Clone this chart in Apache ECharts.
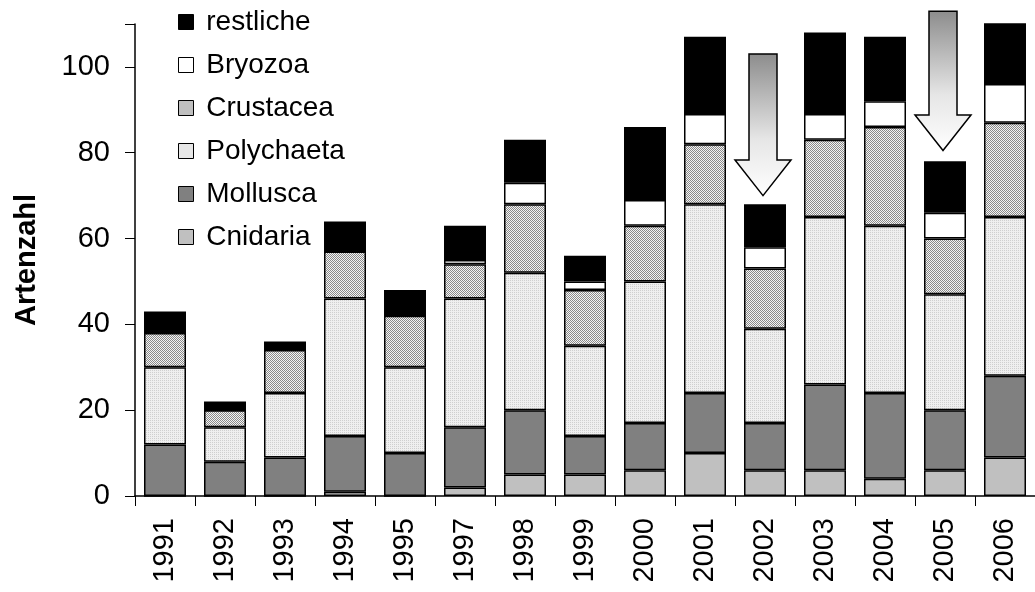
<!DOCTYPE html>
<html>
<head>
<meta charset="utf-8">
<script src="https://cdn.jsdelivr.net/npm/echarts@6/dist/echarts.min.js"></script>
<style>
  html, body { margin: 0; padding: 0; background: #fff; }
  #chart { width: 1035px; height: 592px; }
</style>
</head>
<body>
<div id="chart"></div>
<script>
// Jahre (1996 fehlt)
const years = ['1991', '1992', '1993', '1994', '1995', '1997', '1998', '1999', '2000', '2001', '2002', '2003', '2004', '2005', '2006']
// Artenzahl je Gruppe
const cnidaria   = [0, 0, 0, 1, 0, 2, 5, 5, 6, 10, 6, 6, 4, 6, 9]
const mollusca   = [12, 8, 9, 13, 10, 14, 15, 9, 11, 14, 11, 20, 20, 14, 19]
const polychaeta = [18, 8, 15, 32, 20, 30, 32, 21, 33, 44, 22, 39, 39, 27, 37]
const crustacea  = [8, 4, 10, 11, 12, 8, 16, 13, 13, 14, 14, 18, 23, 13, 22]
const bryozoa    = [0, 0, 0, 0, 0, 1, 5, 2, 6, 7, 5, 6, 6, 6, 9]
const restliche  = [5, 2, 2, 7, 6, 8, 10, 6, 17, 18, 10, 19, 15, 12, 15]
const yTicks = [0, 20, 40, 60, 80, 100]
// Pfeile über 2002 und 2005 (von / bis in Artenzahl)
const arrows = [
    { year: '2002', from: 103, to: 70 },
    { year: '2005', from: 113, to: 80.5 }
]

// Punktraster als Füllmuster
const makePattern = (size, base, dot, cells) => {
    const c = document.createElement('canvas')
    c.width = size
    c.height = size
    const ctx = c.getContext('2d')
    ctx.fillStyle = base
    ctx.fillRect(0, 0, size, size)
    ctx.fillStyle = dot
    cells.forEach(p => ctx.fillRect(p[0], p[1], 1, 1))
    return { image: c, repeat: 'repeat' }
}
const crustPattern = makePattern(2, '#f4f4f4', '#8a8a8a', [[0, 0], [1, 1]])
const polyPattern = makePattern(2, '#efefef', '#cfcfcf', [[0, 0]])

const FONT = 'Liberation Sans, Arial, sans-serif'
const chart = echarts.init(document.getElementById('chart'), null, { renderer: 'canvas' })

const mkSeries = (name, data, color) => ({
    name: name,
    type: 'bar',
    stack: 'all',
    data: data,
    barWidth: '70%',
    itemStyle: {
        color: color,
        borderColor: '#000',
        borderWidth: 1.5,
    },
    emphasis: { disabled: true },
})

const option = {
    animation: false,
    grid: {
        left: 135,
        right: -12,
        top: 24,
        bottom: 96,
        containLabel: false,
    },
    legend: {
        orient: 'vertical',
        left: 178,
        top: 6,
        padding: 0,
        itemWidth: 15,
        itemHeight: 15,
        itemGap: 11,
        icon: 'rect',
        data: ['restliche', 'Bryozoa', 'Crustacea', 'Polychaeta', 'Mollusca', 'Cnidaria'],
        formatter: name => ' ' + name,
        itemStyle: { borderColor: '#000', borderWidth: 1 },
        textStyle: {
            fontFamily: FONT,
            fontSize: 28,
            lineHeight: 32,
            color: '#000',
        },
    },
    xAxis: {
        type: 'category',
        data: years,
        axisLine: { lineStyle: { color: '#000', width: 1.5 } },
        axisTick: { show: true, length: 10, lineStyle: { color: '#000', width: 1 } },
        axisLabel: {
            rotate: 90,
            margin: 22,
            fontFamily: FONT,
            fontSize: 29,
            color: '#000',
        },
    },
    yAxis: {
        type: 'value',
        min: 0,
        max: 110,
        interval: 20,
        name: 'Artenzahl',
        nameLocation: 'middle',
        nameGap: 94,
        nameTextStyle: {
            fontFamily: FONT,
            fontSize: 29,
            fontWeight: 'bold',
            color: '#000',
        },
        axisLine: { show: true, lineStyle: { color: '#000', width: 1.5 } },
        axisTick: { show: true, length: 10, lineStyle: { color: '#000', width: 1 } },
        splitLine: { show: false },
        axisLabel: {
            margin: 25,
            fontFamily: FONT,
            fontSize: 29,
            color: '#000',
            formatter: v => (yTicks.includes(v) ? String(v) : ''),
        },
    },
    series: [
        mkSeries('Cnidaria', cnidaria, '#c0c0c0'),
        mkSeries('Mollusca', mollusca, '#808080'),
        mkSeries('Polychaeta', polychaeta, polyPattern),
        mkSeries('Crustacea', crustacea, crustPattern),
        mkSeries('Bryozoa', bryozoa, '#ffffff'),
        mkSeries('restliche', restliche, '#000000'),
    ],
}
chart.setOption(option)

// Pfeile aus Achsenwerten berechnen
const arrowGraphics = arrows.map(a => {
    const top = chart.convertToPixel({ xAxisIndex: 0, yAxisIndex: 0 }, [a.year, a.from])
    const tip = chart.convertToPixel({ xAxisIndex: 0, yAxisIndex: 0 }, [a.year, a.to])
    const base = chart.convertToPixel({ xAxisIndex: 0, yAxisIndex: 0 }, [a.year, a.to + 8.3])
    const cx = tip[0] - 2
    const sw = 14, hw = 28
    return {
        type: 'polygon',
        z: 100,
        shape: {
            points: [
                [cx - sw, top[1]], [cx + sw, top[1]], [cx + sw, base[1]], [cx + hw, base[1]],
                [cx, tip[1]], [cx - hw, base[1]], [cx - sw, base[1]]
            ]
        },
        style: {
            fill: {
                type: 'linear', x: 0, y: 0, x2: 0, y2: 1,
                colorStops: [
                    { offset: 0, color: '#8c8c8c' },
                    { offset: 0.6, color: '#e6e6e6' },
                    { offset: 1, color: '#ffffff' },
                ],
            },
            stroke: '#000',
            lineWidth: 1.5,
        },
    }
})
chart.setOption({ graphic: arrowGraphics })

window.addEventListener('resize', () => {
    chart.resize()
})
</script>
</body>
</html>
